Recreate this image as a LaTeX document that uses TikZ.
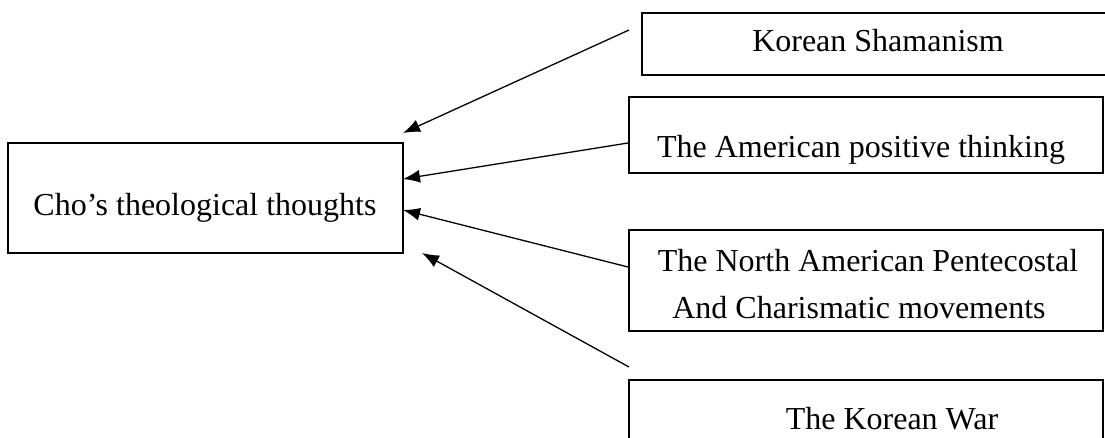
\documentclass[tikz,border=0pt]{standalone}
\usepackage{fontspec}
\setmainfont{Liberation Serif}
\usetikzlibrary{arrows.meta}
\begin{document}
\begin{tikzpicture}[x=1pt,y=1pt,
  box/.style={draw,line width=1.3pt,inner sep=0pt,rectangle},
  lbl/.style={inner sep=0pt,anchor=base,font=\fontsize{32}{38}\selectfont},
  arr/.style={line width=1.3pt,-{Latex[length=17pt,width=13pt]}}]
\useasboundingbox (0,0) rectangle (1105,437);
% boxes
\node[box,minimum width=395pt,minimum height=110pt] (cho) at (205.5,239) {};
\node[box,minimum width=468pt,minimum height=62pt] (ks) at (876,393) {};
\node[box,minimum width=474pt,minimum height=76pt] (apt) at (866,302) {};
\node[box,minimum width=474pt,minimum height=101pt] (nap) at (866,156.5) {};
\node[box,minimum width=474pt,minimum height=77pt] (kw) at (866,18.5) {};
% texts
\node[lbl] (tcho) at (205,222) {Cho’s theological thoughts};
\node[lbl] (tks) at (878,385) {Korean Shamanism};
\node[lbl] (tapt) at (861,279) {The American positive thinking};
\node[lbl] (tnap1) at (868,166) {The North American Pentecostal};
\node[lbl] (tnap2) at (859,119) {And Charismatic movements};
\node[lbl] (tkw) at (892,8) {The Korean War};
% arrow ends
\coordinate (s1) at (629,407);
\coordinate (e1) at (403,304);
\coordinate (s2) at (628,294);
\coordinate (e2) at (403,258);
\coordinate (s3) at (628,170);
\coordinate (e3) at (403,227);
\coordinate (s4) at (629,70);
\coordinate (e4) at (422,184);
\draw[arr] (s1) -- (e1);
\draw[arr] (s2) -- (e2);
\draw[arr] (s3) -- (e3);
\draw[arr] (s4) -- (e4);
\end{tikzpicture}
\end{document}
